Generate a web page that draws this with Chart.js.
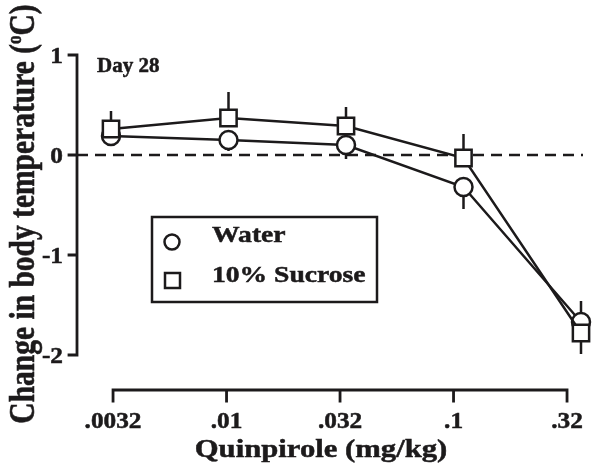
<!DOCTYPE html>
<html>
<head>
<meta charset="utf-8">
<script src="https://cdn.jsdelivr.net/npm/chart.js@4.4.1/dist/chart.umd.min.js"></script>
<style>
    html, body { margin: 0; padding: 0; background: #ffffff; }
    #wrap { width: 601px; height: 474px; position: relative; }
</style>
</head>
<body>
<div id="wrap"><canvas id="tempChart" width="601" height="474"></canvas></div>
<script>
// Dose labels (x categories)
const doses = ['.0032', '.01', '.032', '.1', '.32'];

// Change in body temperature (deg C)
const water = [0.19, 0.15, 0.10, -0.32, -1.67];
const sucrose = [0.26, 0.37, 0.29, -0.03, -1.78];

// SEM (drawn one-sided, away from the other group)
const waterErr = [0.08, 0.11, 0.14, 0.22, 0.21];
const sucroseErr = [0.18, 0.26, 0.19, 0.24, 0.21];

const yTicks = [1, 0, -1, -2];

const INK = '#1c1a1b';
const FONT = '"Liberation Serif", "Times New Roman", serif';
const SX = 1.18; // the original figure is stretched a bit horizontally

function drawText(ctx, text, x, y, size, align, sx) {
    ctx.save();
    ctx.translate(x, y);
    ctx.scale(sx || SX, 1);
    ctx.font = 'bold ' + size + 'px ' + FONT;
    ctx.textAlign = align || 'left';
    ctx.textBaseline = 'alphabetic';
    ctx.fillStyle = INK;
    ctx.strokeStyle = INK;
    ctx.lineWidth = 0.5;
    ctx.fillText(text, 0, 0);
    ctx.strokeText(text, 0, 0);
    ctx.restore();
}

const axesPlugin = {
    id: 'prismAxes',
    beforeDatasetsDraw(chart) {
        const ctx = chart.ctx;
        const x = chart.scales.x;
        const y = chart.scales.y;
        const area = chart.chartArea;
        const axisX = area.left - 34;

        // dashed zero line
        ctx.save();
        ctx.strokeStyle = INK;
        ctx.lineWidth = 2.5;
        ctx.setLineDash([11, 7]);
        ctx.beginPath();
        ctx.moveTo(axisX, y.getPixelForValue(0));
        ctx.lineTo(area.right + 2, y.getPixelForValue(0));
        ctx.stroke();
        ctx.restore();

        // error bars, pointing away from the other series
        ctx.save();
        ctx.strokeStyle = INK;
        ctx.lineWidth = 2.5;
        doses.forEach((d, i) => {
            const px = x.getPixelForValue(i);
            const sucUp = sucrose[i] >= water[i];
            const sEnd = sucUp ? sucrose[i] + sucroseErr[i] : sucrose[i] - sucroseErr[i];
            const wEnd = sucUp ? water[i] - waterErr[i] : water[i] + waterErr[i];
            ctx.beginPath();
            ctx.moveTo(px, y.getPixelForValue(sucrose[i]));
            ctx.lineTo(px, y.getPixelForValue(sEnd));
            ctx.moveTo(px, y.getPixelForValue(water[i]));
            ctx.lineTo(px, y.getPixelForValue(wEnd));
            ctx.stroke();
        });
        ctx.restore();
    },
    afterDraw(chart) {
        const ctx = chart.ctx;
        const y = chart.scales.y;
        const x2 = chart.scales.x2;
        const area = chart.chartArea;
        const axisX = area.left - 34;
        const axisY = area.bottom + 35;

        ctx.save();
        ctx.strokeStyle = INK;
        ctx.lineWidth = 2.8;
        ctx.lineCap = 'square';

        // y axis
        ctx.beginPath();
        ctx.moveTo(axisX, y.getPixelForValue(yTicks[0]));
        ctx.lineTo(axisX, y.getPixelForValue(yTicks[yTicks.length - 1]));
        yTicks.forEach(t => {
            const py = y.getPixelForValue(t);
            ctx.moveTo(axisX - 8, py);
            ctx.lineTo(axisX, py);
        });
        ctx.stroke();
        yTicks.forEach(t => {
            drawText(ctx, String(t), axisX - 14, y.getPixelForValue(t) + 8, 23, 'right', 1.1);
        });

        // x axis (its ticks sit slightly off the data columns, as in the original)
        ctx.beginPath();
        ctx.moveTo(x2.getPixelForValue(0), axisY);
        ctx.lineTo(x2.getPixelForValue(doses.length - 1), axisY);
        doses.forEach((d, i) => {
            const px = x2.getPixelForValue(i);
            ctx.moveTo(px, axisY);
            ctx.lineTo(px, axisY + 11);
        });
        ctx.stroke();
        ctx.restore();
        doses.forEach((d, i) => {
            drawText(ctx, d, x2.getPixelForValue(i), axisY + 38, 23, 'center', 1.1);
        });

        // axis titles
        drawText(ctx, 'Quinpirole (mg/kg)', 321, 457, 26, 'center');

        ctx.save();
        ctx.translate(34, 214);
        ctx.scale(SX, 1);
        ctx.rotate(-Math.PI / 2);
        ctx.fillStyle = INK;
        ctx.strokeStyle = INK;
        ctx.lineWidth = 0.5;
        ctx.textBaseline = 'alphabetic';
        const big = 'bold 29.5px ' + FONT;
        const small = 'bold 17px ' + FONT;
        const parts = [['Change in body temperature (', big, 0], ['o', small, -11], ['C)', big, 0]];
        let total = 0;
        parts.forEach(p => { ctx.font = p[1]; total += ctx.measureText(p[0]).width; });
        let cx = -total / 2;
        parts.forEach(p => {
            ctx.font = p[1];
            ctx.fillText(p[0], cx, p[2]);
            ctx.strokeText(p[0], cx, p[2]);
            cx += ctx.measureText(p[0]).width;
        });
        ctx.restore();

        // panel label
        drawText(ctx, 'Day 28', 97, 72, 20, 'left', 1.05);

        // legend box
        ctx.save();
        ctx.strokeStyle = INK;
        ctx.lineWidth = 2.5;
        ctx.strokeRect(152, 217, 225, 85);
        ctx.fillStyle = '#ffffff';
        ctx.beginPath();
        ctx.arc(172, 242, 7.5, 0, Math.PI * 2);
        ctx.fill();
        ctx.stroke();
        ctx.fillRect(165, 273, 15, 15);
        ctx.strokeRect(165, 273, 15, 15);
        ctx.restore();
        drawText(ctx, 'Water', 212, 242, 24, 'left', 1.15);
        drawText(ctx, '10% Sucrose', 212, 282, 24, 'left', 1.15);
    }
};

new Chart(document.getElementById('tempChart').getContext('2d'), {
    type: 'line',
    data: {
        labels: doses,
        datasets: [{
            label: '10% Sucrose',
            data: sucrose.map((v, i) => ({ x: i, y: v })),
            borderColor: INK,
            borderWidth: 2.5,
            backgroundColor: '#ffffff',
            pointStyle: 'rect',
            pointRadius: 11.5,
            pointBorderWidth: 2.5,
            pointBorderColor: INK,
            pointBackgroundColor: '#ffffff',
            tension: 0,
            clip: false
        }, {
            label: 'Water',
            data: water.map((v, i) => ({ x: i, y: v })),
            borderColor: INK,
            borderWidth: 2.5,
            backgroundColor: '#ffffff',
            pointStyle: 'circle',
            pointRadius: 9,
            pointBorderWidth: 2.5,
            pointBorderColor: INK,
            pointBackgroundColor: '#ffffff',
            tension: 0,
            clip: false
        }]
    },
    options: {
        responsive: false,
        animation: false,
        events: [],
        layout: {
            padding: { left: 111, right: 20, top: 55, bottom: 119 }
        },
        plugins: {
            legend: { display: false },
            tooltip: { enabled: false }
        },
        scales: {
            x: { type: 'linear', min: 0, max: doses.length - 1, display: false },
            x2: { type: 'linear', min: -0.018, max: 4.123, display: false },
            y: { min: yTicks[yTicks.length - 1], max: yTicks[0], display: false }
        }
    },
    plugins: [axesPlugin]
});
</script>
</body>
</html>
